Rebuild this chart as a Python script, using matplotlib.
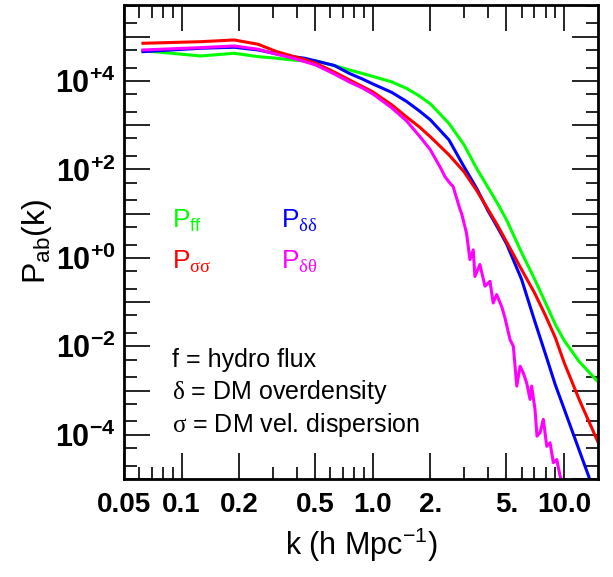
import matplotlib
matplotlib.use('Agg')
import matplotlib.pyplot as plt
from matplotlib.ticker import NullFormatter
import numpy as np

plt.rcParams['font.family'] = ['Liberation Sans', 'DejaVu Sans']
plt.rcParams['mathtext.fontset'] = 'custom'
plt.rcParams['mathtext.rm'] = 'Liberation Serif'
plt.rcParams['mathtext.sf'] = 'Liberation Sans'
plt.rcParams['mathtext.bf'] = 'Liberation Sans:bold'
plt.rcParams['mathtext.it'] = 'Liberation Sans:italic'

# wavenumber grid for the smooth spectra (h/Mpc)
k = [0.0628, 0.1257, 0.1885, 0.2513, 0.3142, 0.377, 0.44, 0.503, 0.628, 0.754,
     0.88, 1.0, 1.257, 1.5, 1.75, 2.0, 2.5, 3.0, 3.5, 4.0, 4.5, 5.0, 6.0, 7.0,
     8.0, 9.0, 10.0, 12.0, 15.0]

# log10 P(k)
logP_ff = [4.684, 4.564, 4.625, 4.549, 4.513, 4.474, 4.452, 4.452, 4.350, 4.248,
           4.169, 4.102, 3.977, 3.831, 3.661, 3.481, 3.040, 2.555, 2.013, 1.595,
           1.223, 0.862, 0.117, -0.471, -1.017, -1.505, -1.864, -2.345, -2.796]
logP_dd = [4.662, 4.738, 4.761, 4.700, 4.610, 4.553, 4.513, 4.452, 4.350, 4.169,
           4.045, 3.932, 3.740, 3.537, 3.323, 3.119, 2.668, 2.058, 1.562, 1.065,
           0.681, 0.320, -0.49, -1.41, -2.18, -2.87, -3.41, -4.35, -5.5]
logP_ss = [4.851, 4.887, 4.926, 4.829, 4.662, 4.564, 4.485, 4.400, 4.203, 4.023,
           3.876, 3.752, 3.458, 3.187, 2.961, 2.736, 2.329, 1.945, 1.516, 1.099,
           0.726, 0.365, -0.267, -0.787, -1.306, -1.803, -2.363, -3.203, -4.151]

# delta-theta cross spectrum, noisy at high k
k_dt = [0.0628, 0.1257, 0.1885, 0.2513, 0.3142, 0.377, 0.44, 0.503, 0.628, 0.754,
        0.88, 1.0, 1.257, 1.5, 1.75, 2.0, 2.29, 2.38, 2.53, 2.63, 2.86, 2.91,
        3.09, 3.22, 3.35, 3.42, 3.63, 3.86, 4.10, 4.26, 4.44, 4.72, 4.91, 5.22,
        5.43, 5.66, 5.89, 6.12, 6.38, 6.64, 6.77, 7.05, 7.22, 7.49, 7.79, 8.12,
        8.45, 8.79, 9.16, 9.53, 9.90]
logP_dt = [4.700, 4.752, 4.790, 4.716, 4.603, 4.519, 4.436, 4.361, 4.158, 3.977,
           3.842, 3.706, 3.390, 3.097, 2.758, 2.442, 1.99, 1.84, 1.69, 1.61, 1.09,
           1.01, 0.56, -0.04, 0.18, -0.42, -0.15, -0.64, -0.53, -1.02, -0.83,
           -1.10, -1.36, -1.85, -2.00, -2.90, -2.45, -2.60, -2.83, -3.20, -2.90,
           -3.43, -4.03, -3.95, -3.65, -4.26, -4.18, -4.63, -4.56, -4.93, -5.12]

xticks = [0.05, 0.1, 0.2, 0.5, 1.0, 2.0, 5.0, 10.0]
xtick_labels = ['0.05', '0.1', '0.2', '0.5', '1.0', '2.', '5.', '10.0']
xminor = [0.06, 0.07, 0.08, 0.09, 0.3, 0.4, 0.6, 0.7, 0.8, 0.9,
          3, 4, 6, 7, 8, 9]
ydecades = list(range(-5, 6))

fig = plt.figure(figsize=(6.13, 5.77), dpi=100)
ax = fig.add_axes([0.2023, 0.1698, 0.7728, 0.8215])

ax.plot(k, 10 ** np.array(logP_ff), color='#00ff00', lw=2.2)
ax.plot(k, 10 ** np.array(logP_dd), color='#0000ff', lw=2.2)
ax.plot(k, 10 ** np.array(logP_ss), color='#ff0000', lw=2.2)
ax.plot(k_dt, 10 ** np.array(logP_dt), color='#ff00ff', lw=2.2)

ax.set_xscale('log')
ax.set_yscale('log')

ax.set_xticks(xticks, xtick_labels, fontweight='bold')
ax.set_xticks(xminor, minor=True)
ax.xaxis.set_minor_formatter(NullFormatter())

ylabels = []
for d in ydecades:
    if d % 2 == 0:
        ylabels.append(r'$\mathbf{10^{%s%d}}$' % ('+' if d >= 0 else '-', abs(d)))
    else:
        ylabels.append('')
ax.set_yticks([10.0 ** d for d in ydecades], ylabels)
yminor = []
for d in range(-5, 6):
    yminor += [2 * 10.0 ** d, 5 * 10.0 ** d]
ax.set_yticks(yminor, minor=True)
ax.yaxis.set_minor_formatter(NullFormatter())

ax.set_xlim(0.05, 15)
ax.set_ylim(1e-5, 5.2e5)

ax.tick_params(which='both', direction='in', top=True, right=True, width=1.2,
               labelsize=20)
ax.tick_params(axis='y', labelsize=22, pad=6)
ax.tick_params(which='major', length=19)
ax.tick_params(which='minor', length=9)
ax.tick_params(axis='x', pad=9)
for s in ax.spines.values():
    s.set_linewidth(2)

# labels of the curves
ax.text(0.1013, 0.5295, r'P$_{\mathsf{ff}}$', color='#00ff00', fontsize=19,
        transform=ax.transAxes, va='baseline')
ax.text(0.3314, 0.5295, r'P$_{\mathrm{\delta\delta}}$', color='#0000ff', fontsize=19,
        transform=ax.transAxes, va='baseline')
ax.text(0.1013, 0.443, r'P$_{\mathrm{\sigma\sigma}}$', color='#ff0000', fontsize=19,
        transform=ax.transAxes, va='baseline')
ax.text(0.3314, 0.443, r'P$_{\mathrm{\delta\theta}}$', color='#ff00ff', fontsize=19,
        transform=ax.transAxes, va='baseline')

ax.text(0.1013, 0.2357, 'f = hydro flux', fontsize=18, transform=ax.transAxes,
        va='baseline')
ax.text(0.1013, 0.1688, r'$\mathrm{\delta}$ = DM overdensity', fontsize=18,
        transform=ax.transAxes, va='baseline')
ax.text(0.1013, 0.0998, r'$\mathrm{\sigma}$ = DM vel. dispersion', fontsize=18,
        transform=ax.transAxes, va='baseline')

fig.text(37 / 613, 1 - 242 / 577, r'P$_{\mathsf{ab}}$(k)', fontsize=23,
         rotation=90, ha='center', va='center')
fig.text(361 / 613, 1 - 545 / 577, r'k (h Mpc$^{\mathsf{-1}}$)', fontsize=22,
         ha='center', va='center')

fig.savefig('out.png', dpi=100)
